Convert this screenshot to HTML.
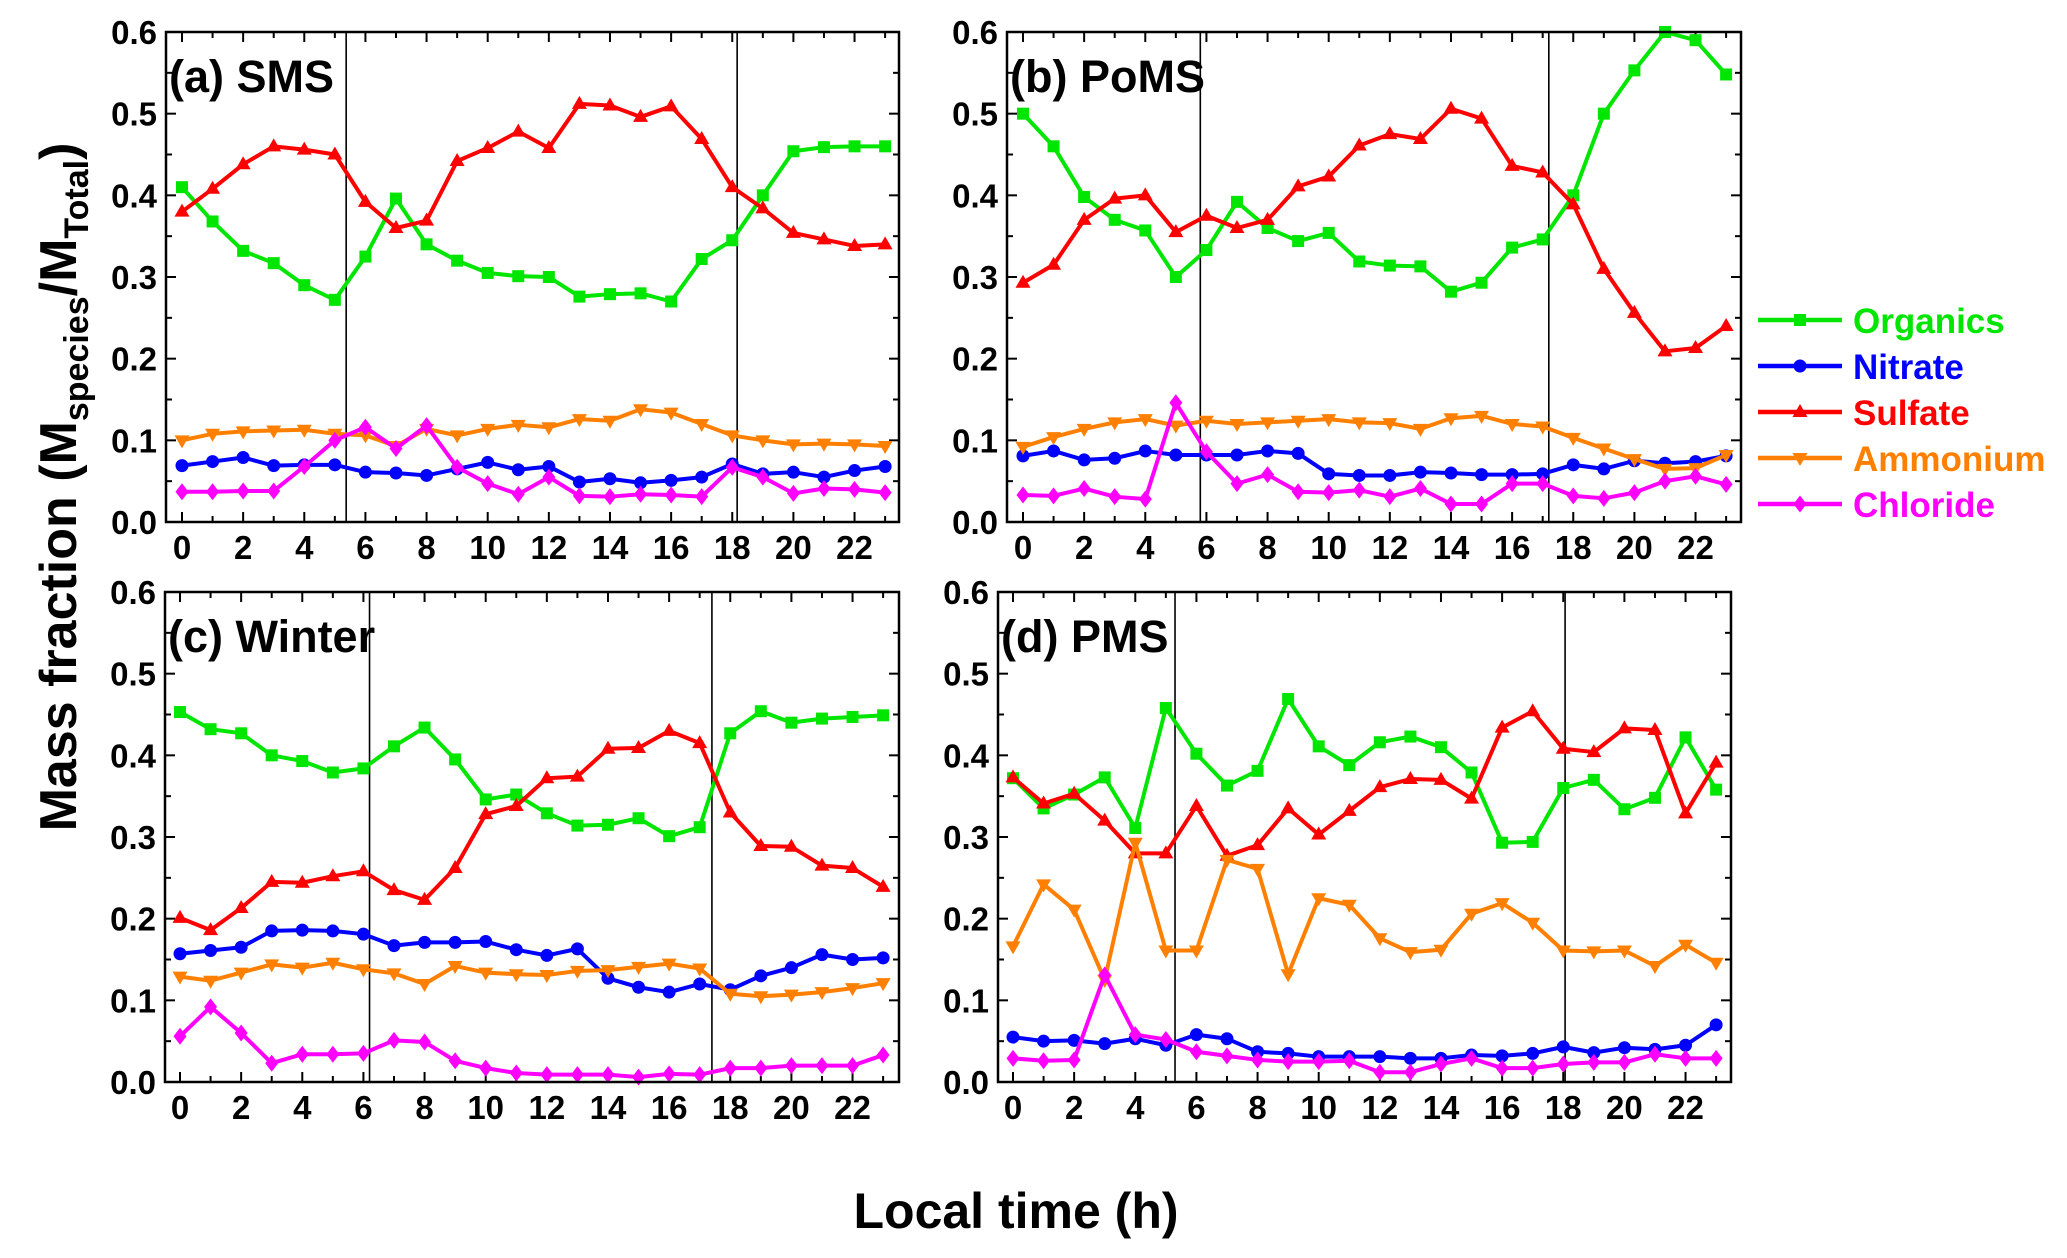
<!DOCTYPE html>
<html><head><meta charset="utf-8"><style>
html,body{margin:0;padding:0;background:#fff;}
svg{display:block;font-family:"Liberation Sans",Arial,sans-serif;font-weight:bold;}
</style></head><body>
<svg id="chart" width="2067" height="1258" viewBox="0 0 2067 1258">
<text transform="translate(76,487) rotate(-90)" text-anchor="middle" font-size="52" fill="#000">Mass fraction (M<tspan font-size="34" dy="12">species</tspan><tspan dy="-12">/M</tspan><tspan font-size="34" dy="12">Total</tspan><tspan dy="-12">)</tspan></text>
<text x="1016" y="1228" text-anchor="middle" font-size="50" fill="#000">Local time (h)</text>
</svg>
<script>
const hours=[0,1,2,3,4,5,6,7,8,9,10,11,12,13,14,15,16,17,18,19,20,21,22,23];
const yTicks=[0,0.1,0.2,0.3,0.4,0.5,0.6];
const yTickLabels=["0.0","0.1","0.2","0.3","0.4","0.5","0.6"];
const xTickLabels=["0","2","4","6","8","10","12","14","16","18","20","22"];
const seriesNames=["Organics","Nitrate","Sulfate","Ammonium","Chloride"];
const seriesColors=["#00e600","#0000ff","#ff0000","#ff8000","#ff00ff"];
const panelTitles=["(a) SMS","(b) PoMS","(c) Winter","(d) PMS"];
const dividerA=[5.37,18.16];
const dividerB=[5.8,17.2];
const dividerC=[6.2,17.4];
const dividerD=[5.3,18.06];
const aOrganics=[0.41,0.368,0.332,0.317,0.29,0.272,0.325,0.396,0.34,0.32,0.305,0.301,0.3,0.276,0.279,0.28,0.27,0.322,0.345,0.4,0.454,0.459,0.46,0.46];
const aNitrate=[0.069,0.074,0.079,0.069,0.07,0.07,0.061,0.06,0.057,0.065,0.073,0.064,0.068,0.049,0.053,0.048,0.051,0.055,0.071,0.059,0.061,0.055,0.063,0.068];
const aSulfate=[0.38,0.408,0.438,0.46,0.456,0.45,0.392,0.36,0.369,0.442,0.458,0.478,0.458,0.512,0.51,0.496,0.509,0.469,0.41,0.384,0.354,0.346,0.338,0.34];
const aAmmonium=[0.1,0.108,0.111,0.112,0.113,0.108,0.106,0.093,0.114,0.106,0.114,0.119,0.116,0.126,0.124,0.138,0.134,0.12,0.106,0.1,0.095,0.096,0.095,0.093];
const aChloride=[0.037,0.037,0.038,0.038,0.068,0.1,0.116,0.09,0.118,0.067,0.047,0.034,0.055,0.032,0.031,0.034,0.033,0.031,0.067,0.055,0.035,0.041,0.04,0.036];
const bOrganics=[0.5,0.46,0.398,0.37,0.357,0.3,0.333,0.392,0.36,0.344,0.354,0.319,0.314,0.313,0.282,0.293,0.336,0.346,0.4,0.5,0.553,0.6,0.59,0.548];
const bNitrate=[0.081,0.087,0.076,0.078,0.087,0.082,0.082,0.082,0.087,0.084,0.059,0.057,0.057,0.061,0.06,0.058,0.058,0.059,0.07,0.065,0.075,0.072,0.074,0.081];
const bSulfate=[0.293,0.315,0.37,0.396,0.4,0.355,0.375,0.36,0.37,0.411,0.423,0.461,0.475,0.469,0.506,0.494,0.436,0.428,0.389,0.31,0.256,0.209,0.213,0.24];
const bAmmonium=[0.092,0.104,0.114,0.122,0.126,0.118,0.124,0.12,0.122,0.124,0.126,0.122,0.121,0.114,0.127,0.13,0.12,0.117,0.103,0.09,0.077,0.065,0.066,0.082];
const bChloride=[0.033,0.032,0.041,0.031,0.028,0.146,0.086,0.047,0.058,0.037,0.036,0.039,0.031,0.041,0.022,0.022,0.047,0.047,0.032,0.029,0.036,0.05,0.056,0.046];
const cOrganics=[0.453,0.432,0.427,0.4,0.393,0.379,0.384,0.411,0.434,0.395,0.346,0.352,0.329,0.314,0.315,0.323,0.301,0.312,0.427,0.454,0.44,0.445,0.447,0.449];
const cNitrate=[0.157,0.161,0.165,0.185,0.186,0.185,0.181,0.167,0.171,0.171,0.172,0.162,0.155,0.163,0.127,0.116,0.11,0.12,0.113,0.13,0.14,0.156,0.15,0.152];
const cSulfate=[0.201,0.186,0.213,0.245,0.244,0.252,0.258,0.235,0.223,0.262,0.328,0.338,0.372,0.374,0.408,0.409,0.43,0.415,0.33,0.289,0.288,0.265,0.262,0.239];
const cAmmonium=[0.129,0.124,0.134,0.144,0.14,0.146,0.138,0.133,0.12,0.142,0.134,0.132,0.131,0.136,0.137,0.141,0.145,0.139,0.108,0.105,0.107,0.11,0.115,0.121];
const cChloride=[0.056,0.092,0.06,0.023,0.034,0.034,0.035,0.051,0.049,0.026,0.017,0.011,0.009,0.009,0.009,0.006,0.01,0.009,0.017,0.017,0.02,0.02,0.02,0.033];
const dOrganics=[0.372,0.335,0.352,0.373,0.311,0.458,0.402,0.363,0.381,0.469,0.411,0.388,0.416,0.423,0.41,0.379,0.293,0.294,0.36,0.37,0.334,0.348,0.422,0.358];
const dNitrate=[0.055,0.05,0.051,0.047,0.053,0.045,0.058,0.053,0.037,0.035,0.031,0.031,0.031,0.029,0.029,0.033,0.032,0.035,0.043,0.036,0.042,0.04,0.045,0.07];
const dSulfate=[0.373,0.341,0.353,0.32,0.28,0.28,0.338,0.277,0.29,0.335,0.303,0.332,0.361,0.371,0.37,0.347,0.434,0.454,0.408,0.404,0.433,0.431,0.329,0.391];
const dAmmonium=[0.166,0.242,0.211,0.125,0.293,0.161,0.161,0.272,0.261,0.132,0.225,0.217,0.176,0.159,0.162,0.206,0.219,0.195,0.161,0.16,0.161,0.142,0.168,0.146];
const dChloride=[0.029,0.026,0.027,0.131,0.058,0.052,0.037,0.032,0.027,0.025,0.025,0.026,0.012,0.012,0.022,0.029,0.017,0.017,0.022,0.024,0.024,0.034,0.029,0.029];

const NS="http://www.w3.org/2000/svg";
const svg=document.getElementById('chart');
function mk(tag,attrs,parent){const e=document.createElementNS(NS,tag);for(const k in attrs)e.setAttribute(k,attrs[k]);(parent||svg).appendChild(e);return e;}

const panels=[
 {key:'a',L:166,R:899,T:32,B:522,x0:182,data:[aOrganics,aNitrate,aSulfate,aAmmonium,aChloride],div:dividerA},
 {key:'b',L:1007,R:1741,T:32,B:522,x0:1023,data:[bOrganics,bNitrate,bSulfate,bAmmonium,bChloride],div:dividerB},
 {key:'c',L:165,R:899,T:592,B:1082,x0:180,data:[cOrganics,cNitrate,cSulfate,cAmmonium,cChloride],div:dividerC},
 {key:'d',L:998,R:1731,T:592,B:1082,x0:1013,data:[dOrganics,dNitrate,dSulfate,dAmmonium,dChloride],div:dividerD}
];
const step=30.57;

function marker(k,x,y,col,g){
  let e;
  if(k===0){e=mk('rect',{x:x-6,y:y-6,width:12,height:12,fill:col},g);}
  else if(k===1){e=mk('circle',{cx:x,cy:y,r:6.5,fill:col},g);}
  else if(k===2){e=mk('polygon',{points:`${x},${y-8} ${x-7.5},${y+5} ${x+7.5},${y+5}`,fill:col},g);}
  else if(k===3){e=mk('polygon',{points:`${x},${y+8} ${x-7.5},${y-5} ${x+7.5},${y-5}`,fill:col},g);}
  else {e=mk('polygon',{points:`${x},${y-8.5} ${x-6.5},${y} ${x},${y+8.5} ${x+6.5},${y}`,fill:col},g);}
  return e;
}

panels.forEach((p,pi)=>{
  const xs=h=>p.x0+h*step;
  const ys=v=>p.B-(v/0.6)*(p.B-p.T);
  const g=mk('g',{});
  
  
  for(let h=0;h<=23;h++){
    const len=h%2===0?10:6;
    mk('line',{x1:xs(h),y1:p.B,x2:xs(h),y2:p.B-len,stroke:'#000','stroke-width':2},g);
    mk('line',{x1:xs(h),y1:p.T,x2:xs(h),y2:p.T+len,stroke:'#000','stroke-width':2},g);
  }
  for(let i=0;i<=12;i++){
    const v=i*0.05,len=i%2===0?10:6;
    mk('line',{x1:p.L,y1:ys(v),x2:p.L+len,y2:ys(v),stroke:'#000','stroke-width':2},g);
    mk('line',{x1:p.R,y1:ys(v),x2:p.R-len,y2:ys(v),stroke:'#000','stroke-width':2},g);
  }
  yTicks.forEach((v,i)=>{
    const t=mk('text',{x:p.L-9,y:ys(v)+12,'text-anchor':'end','font-size':33,fill:'#000'},g);
    
    
    t.textContent=yTickLabels[i];
  });
  xTickLabels.forEach(s=>{
    const t=mk('text',{x:xs(+s),y:p.B+37,'text-anchor':'middle','font-size':33,fill:'#000'},g);
    
    
    t.textContent=s;
  });
  p.div.forEach(h=>{
    const l=mk('line',{x1:xs(h),y1:p.T,x2:xs(h),y2:p.B,stroke:'#000','stroke-width':1.6},g);
    
    
  });
  p.data.forEach((arr,k)=>{
    const sg=mk('g',{},g);
    
    
    const pts=arr.map((v,i)=>xs(hours[i])+','+ys(v)).join(' ');
    mk('polyline',{points:pts,fill:'none',stroke:seriesColors[k],'stroke-width':4,'stroke-linejoin':'round'},sg);
    arr.forEach((v,i)=>{
      const m=marker(k,xs(hours[i]),ys(v),seriesColors[k],sg);
      
      
    });
  });
  const fr=mk('rect',{x:p.L,y:p.T,width:p.R-p.L,height:p.B-p.T,fill:'none',stroke:'#000','stroke-width':2.5},g);
  
  
  const tt=mk('text',{x:p.L+3,y:p.T+60,'font-size':45,fill:'#000'},g);
  
  
  tt.textContent=panelTitles[pi];
});

const lg=mk('g',{});


const legY=[320,366,412,458,504];
seriesNames.forEach((n,k)=>{
  const eg=mk('g',{},lg);
  
  
  mk('line',{x1:1758,y1:legY[k],x2:1842,y2:legY[k],stroke:seriesColors[k],'stroke-width':4.5},eg);
  marker(k,1800,legY[k],seriesColors[k],eg);
  const t=mk('text',{x:1853,y:legY[k]+13,'font-size':35,fill:seriesColors[k]},eg);
  t.textContent=n;
});
</script>
</body></html>
